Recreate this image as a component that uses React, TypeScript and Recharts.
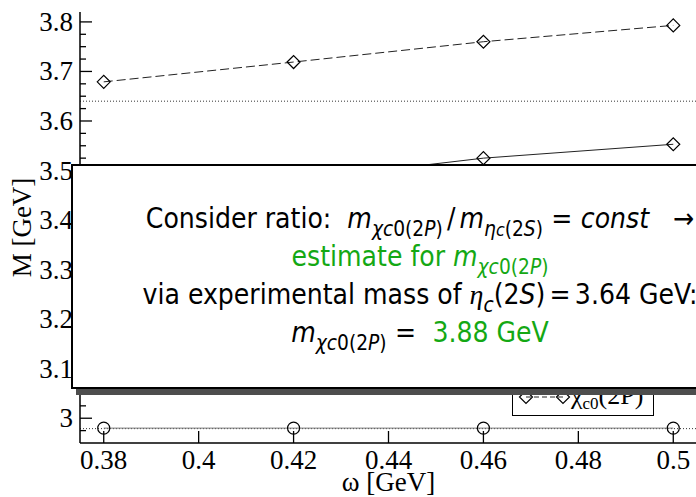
import { ComposedChart, Line, XAxis, YAxis, ReferenceLine } from 'recharts'

const omega = [0.38, 0.42, 0.46, 0.5]
const etaC1S = [2.98, 2.98, 2.98, 2.98]
const etaC2S = [3.44, 3.48, 3.525, 3.553]
const chiC02P = [3.679, 3.719, 3.76, 3.793]
const expEtaC2S = 3.64
const expEtaC1S = 2.979

const xTicks = [0.38, 0.4, 0.42, 0.44, 0.46, 0.48, 0.5]
const yMajor = [3, 3.1, 3.2, 3.3, 3.4, 3.5, 3.6, 3.7, 3.8]
const yTicks = [2.975, ...yMajor.flatMap((v, i) => (i === 0 ? [v] : [v - 0.075, v - 0.05, v - 0.025, v]))]

const data = omega.map((w, i) => ({
    omega: w,
    etaC1S: etaC1S[i],
    etaC2S: etaC2S[i],
    chiC02P: chiC02P[i],
}))

const serif = '"Liberation Serif", "Times New Roman", serif'
const sans = '"DejaVu Sans Condensed", "DejaVu Sans", sans-serif'
const green = '#14a814'

const isMajor = (v: number) => Math.abs(v * 10 - Math.round(v * 10)) < 1e-6
const fmt = (v: number) => String(Number(v.toFixed(2)))

const tickText = { fontFamily: serif, fontSize: 27, fill: '#000' }

function LeftTick({ x, y, payload }: any) {
    const major = isMajor(payload.value)
    return (
        <g>
            <line x1={x} y1={y} x2={x + (major ? 12 : 6)} y2={y} stroke="#000" strokeWidth={1.3} />
            {major && (
                <text x={x - 7} y={y + 9} textAnchor="end" style={tickText}>
                    {fmt(payload.value)}
                </text>
            )}
        </g>
    )
}

function RightTick({ x, y, payload }: any) {
    const major = isMajor(payload.value)
    return <line x1={x} y1={y} x2={x - (major ? 12 : 6)} y2={y} stroke="#000" strokeWidth={1.3} />
}

function BottomTick({ x, y, payload }: any) {
    return (
        <g>
            <line x1={x} y1={y} x2={x} y2={y - 12} stroke="#000" strokeWidth={1.3} />
            <text x={x} y={y + 26} textAnchor="middle" style={tickText}>
                {fmt(payload.value)}
            </text>
        </g>
    )
}

function TopTick({ x, y }: any) {
    return <line x1={x} y1={y} x2={x} y2={y + 12} stroke="#000" strokeWidth={1.3} />
}

function YLabel({ viewBox }: any) {
    const cy = viewBox.y + viewBox.height / 2
    const bx = 31
    return (
        <text x={bx} y={cy} transform={`rotate(-90, ${bx}, ${cy})`} textAnchor="middle" style={tickText}>
            M [GeV]
        </text>
    )
}

function Diamond({ cx, cy }: any) {
    if (cx == null || cy == null) return <g />
    const r = 6.5
    return (
        <polygon
            points={`${cx - r},${cy} ${cx},${cy - r} ${cx + r},${cy} ${cx},${cy + r}`}
            fill="none"
            stroke="#000"
            strokeWidth={1.2}
        />
    )
}

function Sub({ children }: any) {
    return (
        <span style={{ fontSize: '0.74em', position: 'relative', top: '0.38em', lineHeight: 0 }}>
            {children}
        </span>
    )
}

const ChiSub = () => (
    <Sub>
        <i>χc</i>0(2<i>P</i>)
    </Sub>
)

const Eq = ({ gap = 0.3 }: any) => <span style={{ margin: `0 ${gap}em` }}>=</span>

export default function App() {
    return (
        <div style={{ position: 'absolute', left: 0, top: 0, width: 696, height: 497, overflow: 'hidden', background: '#fff' }}>
            <ComposedChart width={720} height={497} data={data} margin={{ top: 12, right: 23, bottom: 0, left: 0 }}>
                <XAxis
                    dataKey="omega"
                    type="number"
                    domain={[0.375, 0.505]}
                    ticks={xTicks}
                    interval={0}
                    allowDataOverflow
                    height={54}
                    tickSize={0}
                    tickMargin={0}
                    tickLine={false}
                    axisLine={{ stroke: '#000', strokeWidth: 1.5 }}
                    tick={<BottomTick />}
                    label={{ value: 'ω [GeV]', position: 'insideBottom', offset: 6, style: tickText }}
                />
                <XAxis
                    xAxisId="top"
                    orientation="top"
                    type="number"
                    domain={[0.375, 0.505]}
                    ticks={xTicks}
                    interval={0}
                    allowDataOverflow
                    height={0}
                    tickSize={0}
                    tickMargin={0}
                    tickLine={false}
                    axisLine={{ stroke: '#000', strokeWidth: 1.5 }}
                    tick={<TopTick />}
                />
                <YAxis
                    type="number"
                    domain={[2.95, 3.82]}
                    ticks={yTicks}
                    interval={0}
                    allowDataOverflow
                    width={80}
                    tickSize={0}
                    tickMargin={0}
                    tickLine={false}
                    axisLine={{ stroke: '#000', strokeWidth: 1.5 }}
                    tick={<LeftTick />}
                    label={(p: any) => <YLabel viewBox={p.viewBox} />}
                />
                <YAxis
                    yAxisId="right"
                    orientation="right"
                    type="number"
                    domain={[2.95, 3.82]}
                    ticks={yTicks}
                    interval={0}
                    allowDataOverflow
                    width={0}
                    tickSize={0}
                    tickMargin={0}
                    tickLine={false}
                    axisLine={{ stroke: '#000', strokeWidth: 1.5 }}
                    tick={<RightTick />}
                />
                <ReferenceLine y={expEtaC2S} stroke="#333" strokeDasharray="1 2" strokeWidth={1} />
                <ReferenceLine y={expEtaC1S} stroke="#333" strokeDasharray="1 2" strokeWidth={1} />
                <Line
                    dataKey="etaC1S"
                    type="linear"
                    stroke="#777"
                    strokeWidth={1}
                    dot={{ r: 6, fill: 'none', stroke: '#000', strokeWidth: 1.2 }}
                    isAnimationActive={false}
                />
                <Line
                    dataKey="etaC2S"
                    type="linear"
                    stroke="#222"
                    strokeWidth={1}
                    dot={(p: any) => <Diamond key={p.key} cx={p.cx} cy={p.cy} />}
                    isAnimationActive={false}
                />
                <Line
                    dataKey="chiC02P"
                    type="linear"
                    stroke="#222"
                    strokeWidth={1}
                    strokeDasharray="9 4"
                    dot={(p: any) => <Diamond key={p.key} cx={p.cx} cy={p.cy} />}
                    isAnimationActive={false}
                />
            </ComposedChart>

            {/* legend, mostly hidden behind the note */}
            <div style={{ position: 'absolute', left: 512, top: 322, width: 142, height: 94, boxSizing: 'border-box', border: '1px solid #000', background: '#fff' }}>
                <svg width={140} height={92} style={{ position: 'absolute', left: 0, top: 0 }}>
                    <line x1={13} y1={74} x2={50} y2={74} stroke="#222" strokeDasharray="5 3" />
                    <Diamond cx={13} cy={74} />
                    <Diamond cx={50} cy={74} />
                    <text x={58} y={81} style={{ fontFamily: serif, fontSize: 26, fill: '#000' }}>
                        χ<tspan fontSize={17} dy={5}>c0</tspan>
                        <tspan dy={-5}>(2P)</tspan>
                    </text>
                </svg>
            </div>

            {/* annotation box */}
            <div
                style={{
                    position: 'absolute',
                    left: 71,
                    top: 164,
                    width: 698,
                    height: 225,
                    boxSizing: 'border-box',
                    border: '2px solid #000',
                    boxShadow: '5px 6px 0 #4d4d4d',
                    background: '#fff',
                    fontFamily: sans,
                    fontStretch: 'condensed',
                    fontSize: 28,
                    lineHeight: '38px',
                    color: '#000',
                    textAlign: 'center',
                    paddingTop: 34,
                    whiteSpace: 'nowrap',
                }}
            >
                <div>
                    Consider ratio:&nbsp; <i>m</i>
                    <ChiSub />
                    <span style={{ margin: '0 0.15em' }}>/</span>
                    <i>m</i>
                    <Sub>
                        <i>η</i>
                        <i style={{ fontSize: '0.85em' }}>c</i>(2<i>S</i>)
                    </Sub>
                    <Eq />
                    <i>const</i>&nbsp;&nbsp; →
                </div>
                <div style={{ color: green }}>
                    estimate for <i>m</i>
                    <ChiSub />
                </div>
                <div>
                    via experimental mass of <i style={{ fontFamily: serif }}>η</i>
                    <Sub>
                        <i>c</i>
                    </Sub>
                    (2<i>S</i>)
                    <Eq gap={0.15} />
                    3.64 GeV:
                </div>
                <div>
                    <i>m</i>
                    <ChiSub />
                    <Eq />
                    &nbsp;<span style={{ color: green }}>3.88 GeV</span>
                </div>
            </div>
        </div>
    )
}
